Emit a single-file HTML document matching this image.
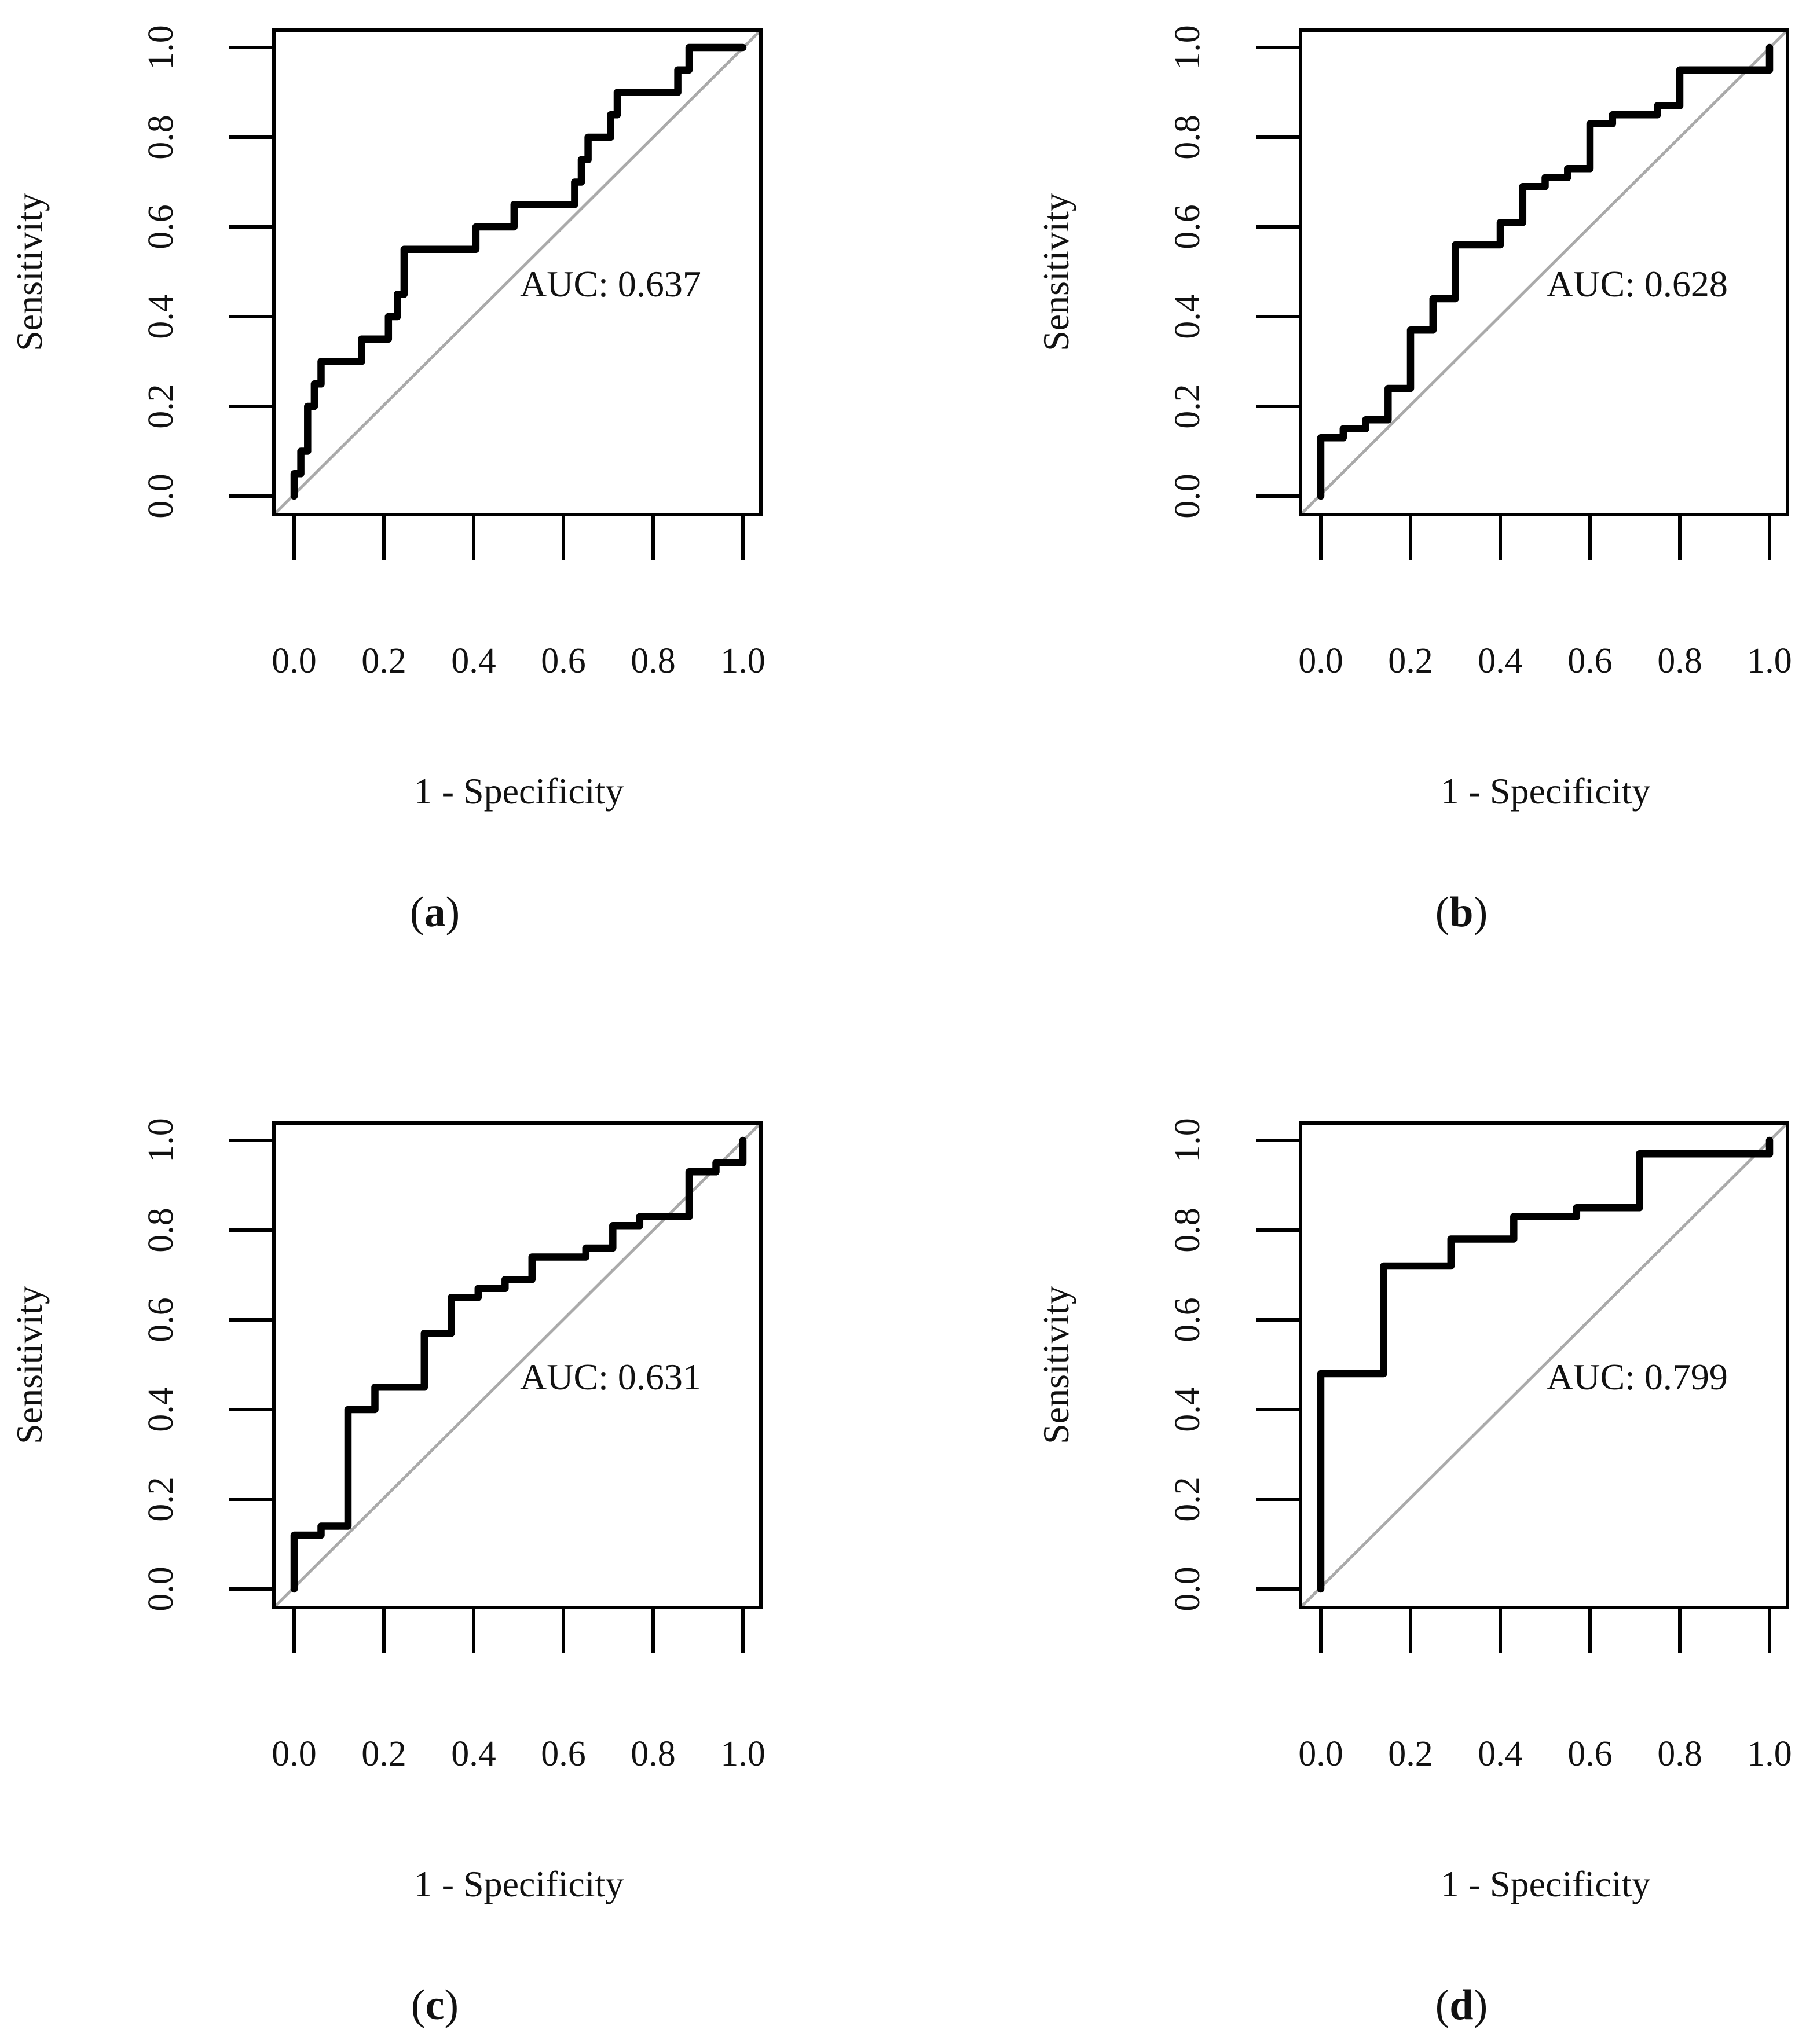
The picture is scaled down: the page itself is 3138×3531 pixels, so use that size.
<!DOCTYPE html>
<html><head><meta charset="utf-8"><style>
html,body{margin:0;padding:0;background:#fff;}
svg{display:block;}
text{font-family:"Liberation Serif",serif;fill:#111;}
</style></head><body>
<svg id="chart" width="3138" height="3531" viewBox="0 0 3138 3531" xmlns="http://www.w3.org/2000/svg"></svg>
<script>
const panelLabels = ["a","b","c","d"];
const aucTexts = ["AUC: 0.637","AUC: 0.628","AUC: 0.631","AUC: 0.799"];
const tickValues = [0,0.2,0.4,0.6,0.8,1.0];
const tickLabels = ["0.0","0.2","0.4","0.6","0.8","1.0"];
const fprA = [0,0,0.015,0.015,0.03,0.03,0.045,0.045,0.06,0.06,0.15,0.15,0.21,0.21,0.23,0.23,0.245,0.245,0.405,0.405,0.49,0.49,0.625,0.625,0.64,0.64,0.655,0.655,0.705,0.705,0.72,0.72,0.855,0.855,0.88,0.88,1];
const tprA = [0,0.05,0.05,0.1,0.1,0.2,0.2,0.25,0.25,0.3,0.3,0.35,0.35,0.4,0.4,0.45,0.45,0.55,0.55,0.6,0.6,0.65,0.65,0.7,0.7,0.75,0.75,0.8,0.8,0.85,0.85,0.9,0.9,0.95,0.95,1,1];
const fprB = [0,0,0.05,0.05,0.1,0.1,0.15,0.15,0.2,0.2,0.25,0.25,0.3,0.3,0.4,0.4,0.45,0.45,0.5,0.5,0.55,0.55,0.6,0.6,0.65,0.65,0.75,0.75,0.8,0.8,1,1];
const tprB = [0,0.13,0.13,0.15,0.15,0.17,0.17,0.24,0.24,0.37,0.37,0.44,0.44,0.56,0.56,0.61,0.61,0.69,0.69,0.71,0.71,0.73,0.73,0.83,0.83,0.85,0.85,0.87,0.87,0.95,0.95,1];
const fprC = [0,0,0.06,0.06,0.12,0.12,0.18,0.18,0.29,0.29,0.35,0.35,0.41,0.41,0.47,0.47,0.53,0.53,0.65,0.65,0.71,0.71,0.77,0.77,0.88,0.88,0.94,0.94,1,1];
const tprC = [0,0.12,0.12,0.14,0.14,0.4,0.4,0.45,0.45,0.57,0.57,0.65,0.65,0.67,0.67,0.69,0.69,0.74,0.74,0.76,0.76,0.81,0.81,0.83,0.83,0.93,0.93,0.95,0.95,1];
const fprD = [0,0,0.14,0.14,0.29,0.29,0.43,0.43,0.57,0.57,0.71,0.71,1,1];
const tprD = [0,0.48,0.48,0.72,0.72,0.78,0.78,0.83,0.83,0.85,0.85,0.97,0.97,1];
const fprs = [fprA,fprB,fprC,fprD];
const tprs = [tprA,tprB,tprC,tprD];

const NS="http://www.w3.org/2000/svg";
const svg=document.getElementById('chart');
function mk(tag,attrs,parent){const e=document.createElementNS(NS,tag);for(const k in attrs)e.setAttribute(k,attrs[k]);parent.appendChild(e);return e;}
const offX=[0,1773,0,1773], offY=[0,0,1888,1888];
for(let p=0;p<4;p++){
  const g=mk('g',{transform:`translate(${offX[p]},${offY[p]})`},svg);
  
  
  const bl=473, br=1314, bt=52, bb=889;
  const x0=508, x1=1283, y0=857, y1=82;
  const xs=v=>x0+v*(x1-x0), ys=v=>y0+v*(y1-y0);
  const diag=mk('line',{x1:bl,y1:bb,x2:br,y2:bt,stroke:'#aaa','stroke-width':5},g);
  
  
  let d='';
  for(let i=0;i<fprs[p].length;i++){d+=(i?'L':'M')+xs(fprs[p][i]).toFixed(1)+' '+ys(tprs[p][i]).toFixed(1);}
  const curve=mk('path',{d:d,fill:'none',stroke:'#000','stroke-width':12.5,'stroke-linejoin':'round','stroke-linecap':'round'},g);
  
  
  const box=mk('rect',{x:bl,y:bt,width:br-bl,height:bb-bt,fill:'none',stroke:'#000','stroke-width':6},g);
  
  
  for(let t=0;t<tickValues.length;t++){
    const xv=xs(tickValues[t]);
    const xt=mk('line',{x1:xv,y1:bb,x2:xv,y2:967,stroke:'#000','stroke-width':6},g);
    
    
    const xl=mk('text',{x:xv,y:1162,'text-anchor':'middle','font-size':62},g);
    xl.textContent=tickLabels[t];
    
    
    const yv=ys(tickValues[t]);
    const yt=mk('line',{x1:396,y1:yv,x2:bl,y2:yv,stroke:'#000','stroke-width':6},g);
    
    
    const yl=mk('text',{x:0,y:0,'text-anchor':'middle','font-size':62,transform:`translate(298,${yv}) rotate(-90)`},g);
    yl.textContent=tickLabels[t];
    
    
  }
  const auc=mk('text',{x:898,y:512,'font-size':64},g);
  auc.textContent=aucTexts[p];
  
  
  const yt=mk('text',{x:0,y:0,'text-anchor':'middle','font-size':64,transform:`translate(72,470) rotate(-90)`},g);
  yt.textContent='Sensitivity';
  
  
  const xt=mk('text',{x:896,y:1388,'text-anchor':'middle','font-size':64},g);
  xt.textContent='1 - Specificity';
  
  
  const pl=mk('text',{x:751,y:1600,'text-anchor':'middle','font-size':74},g);
  pl.innerHTML='(<tspan font-weight="bold">'+panelLabels[p]+'</tspan>)';
  
  
}
</script>
</body></html>
